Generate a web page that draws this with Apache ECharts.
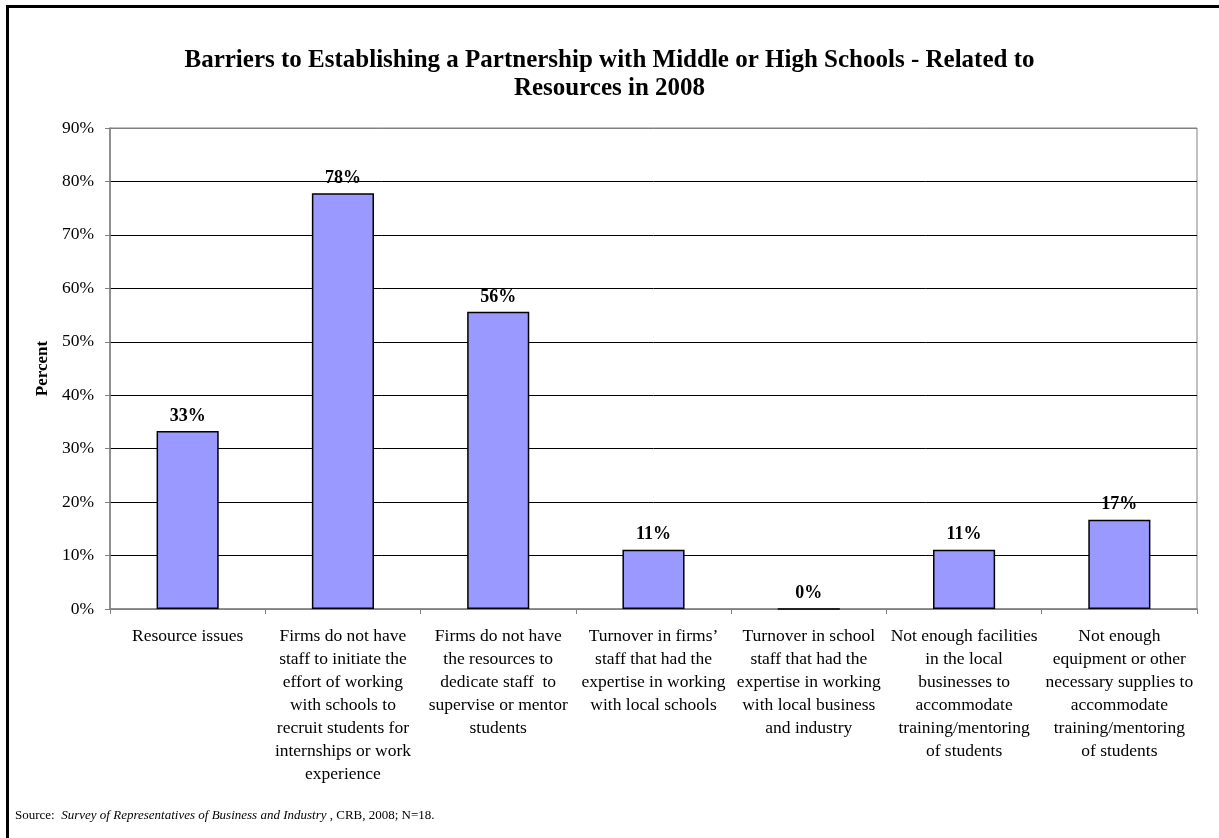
<!DOCTYPE html>
<html>
<head>
<meta charset="utf-8">
<script src="https://cdn.jsdelivr.net/npm/echarts@6/dist/echarts.min.js"></script>
<style>
html,body{margin:0;padding:0;background:#fff;}
#chart{width:1219px;height:838px;}
#frame{position:absolute;left:6px;top:5px;width:1300px;height:900px;border-left:3px solid #000;border-top:3px solid #000;pointer-events:none;}
</style>
</head>
<body>
<div id="chart"></div>
<div id="frame"></div>
<script>
const categories = [
  "Resource issues",
  "Firms do not have\nstaff to initiate the\neffort of working\nwith schools to\nrecruit students for\ninternships or work\nexperience",
  "Firms do not have\nthe resources to\ndedicate staff  to\nsupervise or mentor\nstudents",
  "Turnover in firms’\nstaff that had the\nexpertise in working\nwith local schools",
  "Turnover in school\nstaff that had the\nexpertise in working\nwith local business\nand industry",
  "Not enough facilities\nin the local\nbusinesses to\naccommodate\ntraining/mentoring\nof students",
  "Not enough\nequipment or other\nnecessary supplies to\naccommodate\ntraining/mentoring\nof students"
];
const percentValues = [33.3, 77.8, 55.6, 11.1, 0, 11.1, 16.7];
const yTicks = [0, 10, 20, 30, 40, 50, 60, 70, 80, 90];

const serif = '"Liberation Serif", "Times New Roman", serif';
const chart = echarts.init(document.getElementById('chart'));
chart.setOption({
  animation: false,
  backgroundColor: '#fff',
  title: [{
    text: 'Barriers to Establishing a Partnership with Middle or High Schools - Related to\nResources in 2008',
    left: 'center',
    top: 42,
    textStyle: { fontFamily: serif, fontSize: 25, fontWeight: 'bold', color: '#000', lineHeight: 28 }
  }, {
    text: '{n|Source:  }{i|Survey of Representatives of Business and Industry}{n| , CRB, 2008; N=18.}',
    left: 10,
    top: 804,
    textStyle: {
      fontWeight: 'normal',
      rich: {
        n: { fontFamily: serif, fontSize: 13, color: '#000', fontWeight: 'normal' },
        i: { fontFamily: serif, fontSize: 13, color: '#000', fontStyle: 'italic', fontWeight: 'normal' }
      }
    }
  }],
  grid: { left: 110, right: 22, top: 128, bottom: 229, show: true, borderColor: '#808080', borderWidth: 1 },
  xAxis: {
    type: 'category',
    data: categories,
    axisLine: { lineStyle: { color: '#808080', width: 1.5 } },
    axisTick: { show: true, alignWithLabel: false, length: 5, lineStyle: { color: '#808080' } },
    axisLabel: { interval: 0, margin: 16, fontFamily: serif, fontSize: 17.5, lineHeight: 23, color: '#000', verticalAlign: 'top' }
  },
  yAxis: {
    type: 'value',
    min: yTicks[0],
    max: yTicks[yTicks.length - 1],
    interval: 10,
    name: 'Percent',
    nameLocation: 'middle',
    nameGap: 56,
    nameRotate: 90,
    nameTextStyle: { fontFamily: serif, fontSize: 17, fontWeight: 'bold', color: '#000' },
    axisLine: { show: true, lineStyle: { color: '#808080', width: 1.5 } },
    axisTick: { show: true, length: 5, lineStyle: { color: '#808080' } },
    axisLabel: { margin: 16, fontFamily: serif, fontSize: 17.5, color: '#000', formatter: '{value}%' },
    splitLine: { show: true, lineStyle: { color: ['#808080','#000','#000','#000','#000','#000','#000','#000','#000','#808080'], width: 1 } }
  },
  series: [{
    type: 'bar',
    data: percentValues,
    barWidth: '40%',
    itemStyle: { color: '#9999FF', borderColor: '#000', borderWidth: 1.5 },
    label: {
      show: true,
      position: 'top',
      distance: 6,
      fontFamily: serif,
      fontSize: 18,
      fontWeight: 'bold',
      color: '#000',
      formatter: p => Math.round(p.value) + '%'
    }
  }]
});
</script>
</body>
</html>
